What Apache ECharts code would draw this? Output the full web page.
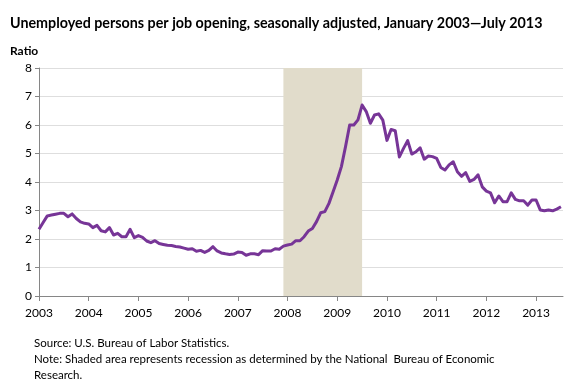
<!DOCTYPE html>
<html>
<head>
<meta charset="utf-8">
<script src="https://cdn.jsdelivr.net/npm/echarts@6/dist/echarts.min.js"></script>
<style>html,body{margin:0;padding:0;background:#fff}#c{width:580px;height:391px}</style>
</head>
<body>
<div id="c"></div>
<script>
// Monthly ratio of unemployed persons per job opening (Jan 2003 – Jul 2013)
const y2003 = [2.34, 2.58, 2.81, 2.84, 2.87, 2.90, 2.90, 2.78, 2.88, 2.72, 2.60, 2.55];
const y2004 = [2.53, 2.40, 2.48, 2.29, 2.25, 2.40, 2.14, 2.20, 2.08, 2.08, 2.34, 2.05];
const y2005 = [2.12, 2.06, 1.93, 1.87, 1.94, 1.84, 1.81, 1.78, 1.77, 1.74, 1.72, 1.68];
const y2006 = [1.64, 1.66, 1.57, 1.60, 1.53, 1.60, 1.73, 1.58, 1.51, 1.48, 1.46, 1.47];
const y2007 = [1.54, 1.53, 1.43, 1.48, 1.48, 1.45, 1.59, 1.58, 1.58, 1.66, 1.64, 1.75];
const y2008 = [1.79, 1.82, 1.94, 1.94, 2.08, 2.28, 2.37, 2.61, 2.92, 2.96, 3.25, 3.66];
const y2009 = [4.07, 4.54, 5.24, 6.00, 6.00, 6.18, 6.70, 6.47, 6.06, 6.35, 6.39, 6.17];
const y2010 = [5.46, 5.84, 5.80, 4.88, 5.18, 5.45, 4.98, 5.06, 5.20, 4.80, 4.91, 4.89];
const y2011 = [4.83, 4.51, 4.42, 4.60, 4.71, 4.36, 4.20, 4.33, 4.02, 4.09, 4.25, 3.83];
const y2012 = [3.68, 3.62, 3.27, 3.51, 3.31, 3.31, 3.62, 3.39, 3.34, 3.34, 3.19, 3.37];
const y2013 = [3.37, 3.02, 2.99, 3.02, 2.99, 3.05, 3.13];
const yearLabels = ['2003','2004','2005','2006','2007','2008','2009','2010','2011','2012','2013'];
const recessionStart = 59; // Dec 2007 (months since Jan 2003)
const recessionEnd = 78;   // Jun/Jul 2009

const values = [].concat(y2003, y2004, y2005, y2006, y2007, y2008, y2009, y2010, y2011, y2012, y2013);
const seriesData = values.map((v, i) => [i, v]);
const yearTicks = yearLabels.map((_, k) => k * 12);

const font = 'Lato, "Open Sans", sans-serif';
const chart = echarts.init(document.getElementById('c'), null, {renderer: 'canvas'});
chart.setOption({
  animation: false,
  backgroundColor: '#ffffff',
  grid: {left: 39, right: 17, top: 68, bottom: 95},
  xAxis: {
    type: 'value', min: 0, max: 126.5,
    axisLine: {show: true, lineStyle: {color: '#868686', width: 1}},
    axisTick: {show: true, customValues: yearTicks, length: 5, lineStyle: {color: '#868686'}},
    axisLabel: {customValues: yearTicks, formatter: v => yearLabels[Math.round(v / 12)], color: '#000', fontSize: 12, fontFamily: font, margin: 11},
    splitLine: {show: false}
  },
  yAxis: {
    type: 'value', min: 0, max: 8, interval: 1,
    axisLine: {show: true, lineStyle: {color: '#868686', width: 1}},
    axisTick: {show: true, length: 4, lineStyle: {color: '#868686'}},
    axisLabel: {color: '#000', fontSize: 12, fontFamily: font, margin: 7},
    splitLine: {show: true, lineStyle: {color: '#dedede', width: 1}}
  },
  series: [{
    type: 'line', data: seriesData, showSymbol: false, symbol: 'none',
    lineStyle: {color: '#773597', width: 3, join: 'round'},
    z: 3,
    markArea: {
      silent: true,
      itemStyle: {color: '#e1dccb'},
      data: [[{xAxis: recessionStart}, {xAxis: recessionEnd}]]
    }
  }],
  graphic: [
    {type: 'text', left: 10, top: 16, style: {text: 'Unemployed persons per job opening, seasonally adjusted, January 2003\u2014July 2013', font: 'bold 14.3px ' + font, fill: '#000'}},
    {type: 'text', left: 10, top: 45, style: {text: 'Ratio', font: 'bold 12px ' + font, fill: '#000'}},
    {type: 'text', left: 34, top: 337, style: {text: 'Source: U.S. Bureau of Labor Statistics.', font: '11.5px ' + font, fill: '#000'}},
    {type: 'text', left: 34, top: 353, style: {text: 'Note: Shaded area represents recession as determined by the National  Bureau of Economic', font: '11.5px ' + font, fill: '#000'}},
    {type: 'text', left: 34, top: 369, style: {text: 'Research.', font: '11.5px ' + font, fill: '#000'}}
  ]
});
</script>
</body>
</html>
